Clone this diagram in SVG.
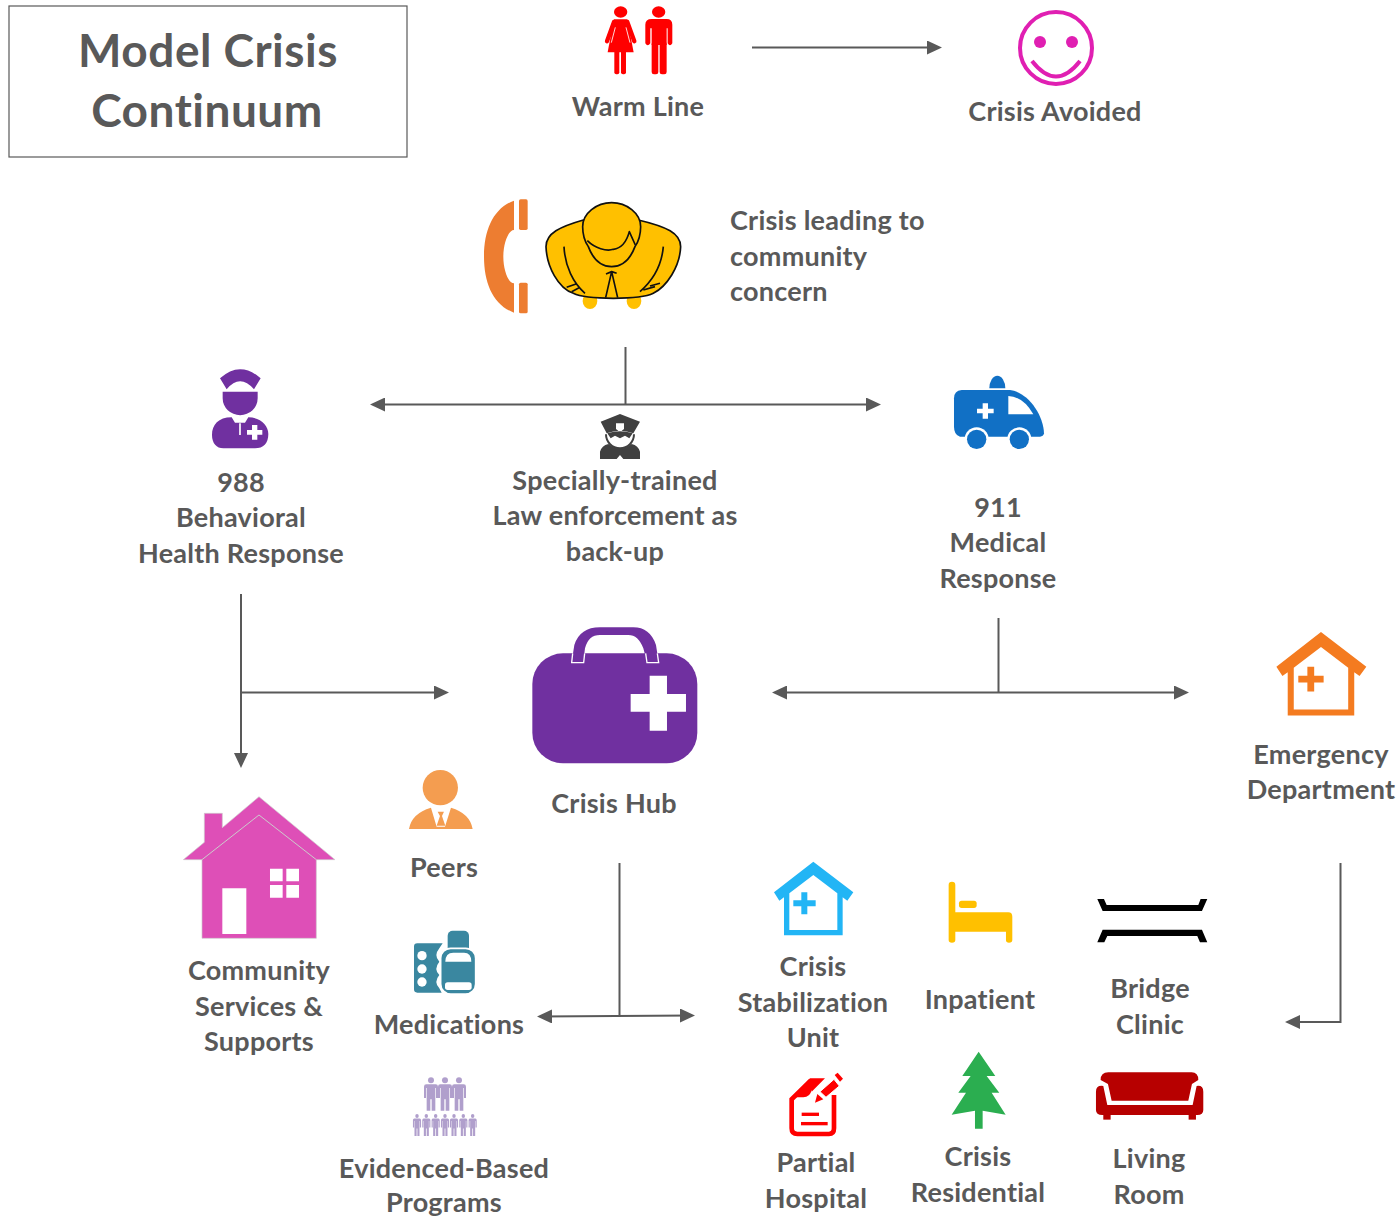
<svg xmlns="http://www.w3.org/2000/svg" xmlns:xlink="http://www.w3.org/1999/xlink" width="1399" height="1216" viewBox="0 0 1399 1216">
<style>
text{font-family:"Lato","Open Sans","Liberation Sans",sans-serif;font-weight:700;font-size:27px;fill:#595959;text-anchor:middle;letter-spacing:.25px}
.l{text-anchor:start}
.t{font-size:46px;letter-spacing:.5px}
.c{fill:none;stroke:#595959;stroke-width:2}
.a{marker-end:url(#h)}
.b{marker-start:url(#h);marker-end:url(#h)}
.w{fill:#fff}
</style>
<defs>
<marker id="h" markerUnits="userSpaceOnUse" viewBox="0 0 15 14" markerWidth="15" markerHeight="14" refX="12" refY="7" orient="auto-start-reverse"><path d="M0 0L15 7L0 14Z" fill="#595959"/></marker>
<g id="mh">
<path fill-rule="evenodd" d="M160 5L280 97L262 122L248 112V226H72V112L58 122L42 97ZM160 45L88 100V210H232V100Z"/>
<path d="M124 97H142V121H167V139H142V163H124V139H100V121H124Z"/>
</g>
<g id="p"><circle cx="0" cy="9" r="9"/><path d="M-14 21H14Q21 21 21 28V62H15V32H13V100H2V66H-2V100H-13V32H-15V62H-21V28Q-21 21-14 21Z"/></g>
</defs>
<rect width="1399" height="1216" fill="#fff"/>

<g id="connectors">
<path class="c a" d="M752 47.500H939"/>
<path class="c" d="M625.500 347V405"/>
<path class="c b" d="M373 404.500H878"/>
<path class="c a" d="M241 594V765"/>
<path class="c a" d="M241 692.500H446"/>
<path class="c" d="M998.500 618V692"/>
<path class="c b" d="M775 692.500H1186"/>
<path class="c" d="M619.500 863V1016"/>
<path class="c b" d="M540 1016.500L692 1015.500"/>
<path class="c a" d="M1340.500 863V1022H1288"/>
</g>

<g id="title">
<rect x="9" y="6" width="398" height="151" fill="#fff" stroke="#595959" stroke-width="1.200"/>
<text class="t" x="208" y="67">Model Crisis</text>
<text class="t" x="207" y="127">Continuum</text>
</g>

<g id="warm-line">
<g transform="translate(470 0) scale(.3333)" fill="#f00">
<ellipse cx="452" cy="36" rx="20" ry="17"/>
<path d="M432 58H472L491 157H413Z"/>
<path d="M432 66L411 124M472 66L493 124" stroke="#f00" stroke-width="13" stroke-linecap="round"/>
<path d="M436 82L424 128M468 82L480 128" stroke="#fff" stroke-width="2.500"/>
<rect x="433" y="150" width="15" height="73" rx="6"/><rect x="453" y="150" width="15" height="73" rx="6"/>
<ellipse cx="566" cy="36" rx="20" ry="17"/>
<path d="M545 57H590Q607 57 607 74V130Q600 142 593 130V85H590V135H545V85H541V130Q533 142 526 130V74Q526 57 545 57Z"/>
<rect x="545" y="125" width="20" height="98" rx="7"/><rect x="569" y="125" width="21" height="98" rx="7"/>
</g>
<text x="638" y="116">Warm Line</text>
</g>

<g id="crisis-avoided">
<circle cx="1056" cy="48" r="36" fill="none" stroke="#e01fb2" stroke-width="4"/>
<circle cx="1040" cy="42" r="6" fill="#e01fb2"/><circle cx="1072" cy="42" r="6" fill="#e01fb2"/>
<path d="M1032 61Q1056 92 1080 61" fill="none" stroke="#e01fb2" stroke-width="4"/>
<text x="1055" y="121">Crisis Avoided</text>
</g>

<g id="crisis-concern">
<g transform="translate(470 0) scale(.3333)">
<path fill="#ed7d31" d="M132 602C70 625 42 690 42 770C42 850 70 915 132 938V850C115 850 100 810 100 770C100 730 115 690 132 690Z"/>
<rect x="147" y="598" width="26" height="92" rx="5" fill="#ed7d31"/><rect x="147" y="848" width="26" height="92" rx="5" fill="#ed7d31"/>
<ellipse cx="360" cy="903" rx="22" ry="24" fill="#ffc000"/><ellipse cx="492" cy="903" rx="22" ry="24" fill="#ffc000"/>
<g stroke="#111" stroke-width="5" fill="#ffc000" stroke-linejoin="round">
<path d="M340 660C270 680 228 700 228 740C230 800 265 865 310 880C350 900 510 900 550 880C590 860 630 800 632 740C632 700 590 680 505 660Z"/>
<path d="M338 680C338 640 380 608 425 608C470 608 512 640 512 680C512 705 505 725 495 740C480 780 455 800 425 800C395 800 370 780 355 740C345 725 338 705 338 680Z"/>
<path fill="none" d="M352 722C375 745 410 755 430 748C455 745 470 725 478 695L496 735M425 815L407 893M425 815L443 893M408 822L425 815L440 820M282 740C285 800 310 850 345 880M580 740C575 800 550 840 510 875M290 862L318 852M305 875L330 862M540 858L570 850M520 870L555 860"/>
</g></g>
<text class="l" x="730" y="230">Crisis leading to</text>
<text class="l" x="730" y="266">community</text>
<text class="l" x="730" y="301">concern</text>
</g>

<g id="behavioral-988">
<g transform="translate(180 360) scale(.3333)" fill="#7030a0">
<path d="M120 55Q180 0 242 55L222 88Q180 40 140 88Z"/>
<path d="M128 95H233V115A52 50 0 0 1 128 115Z"/>
<path d="M155 172C115 172 96 195 96 225C96 250 110 265 130 265H225C250 265 265 250 265 222C265 195 240 172 205 172L195 188H165Z"/>
<path d="M180 190V225" stroke="#fff" stroke-width="5"/>
<path class="w" d="M216 195H232V210H247V224H232V239H216V224H201V210H216Z"/>
</g>
<text x="241" y="492">988</text><text x="241" y="527">Behavioral</text><text x="241" y="563">Health Response</text>
</g>

<g id="law-enforcement">
<g transform="translate(590 405) scale(.3333)" fill="#404040">
<path d="M90 27L150 50L130 85Q90 70 50 85L32 50Z"/>
<path class="w" d="M78 55H102V72L90 82L78 72Z"/>
<path d="M48 88A42 42 0 0 0 132 88" fill="none" stroke="#404040" stroke-width="6"/>
<path d="M52 85Q90 72 128 85L118 100L105 92L90 100L75 92L62 100Z"/>
<path d="M30 162V140Q35 122 55 117Q90 145 125 117Q145 122 150 140V162H100L90 150L80 162Z"/>
</g>
<text x="615" y="490">Specially-trained</text><text x="615" y="525">Law enforcement as</text><text x="615" y="561">back-up</text>
</g>

<g id="medical-911">
<g transform="translate(940 370) scale(.3333)" fill="#1170c5">
<path d="M148 55A24 38 0 0 1 196 55Z"/>
<path d="M65 60H210C260 65 310 130 312 190Q310 200 300 200H60Q42 195 42 170V85Q42 62 65 60Z"/>
<path class="w" d="M205 78Q250 80 280 133H205Z"/>
<path class="w" d="M128 100H144V116H161V130H144V146H128V130H111V116H128Z"/>
<circle cx="110" cy="208" r="36" class="w"/><circle cx="238" cy="208" r="36" class="w"/>
<circle cx="110" cy="208" r="29"/><circle cx="238" cy="208" r="29"/>
</g>
<text x="998" y="517">911</text><text x="998" y="552">Medical</text><text x="998" y="588">Response</text>
</g>

<g id="crisis-hub">
<g transform="translate(525 620) scale(.3333)">
<rect x="22" y="100" width="495" height="330" rx="92" fill="#7030a0"/>
<path fill="#7030a0" d="M140 126L148 75Q165 22 225 22H325Q375 22 393 75L401 126H366L355 85Q340 45 310 45H225Q190 45 180 85L175 126Z"/>
<path d="M143 100L140 128H176L179 100M362 100L366 128H401L397 100" fill="none" stroke="#fff" stroke-width="4"/>
<path class="w" d="M374 167H426V222H483V275H426V332H374V275H317V222H374Z"/>
</g>
<text x="614" y="813">Crisis Hub</text>
</g>

<g id="emergency-department">
<use xlink:href="#mh" href="#mh" fill="#f47b20" transform="translate(1260.500 630) scale(.378)"/>
<text x="1321" y="764">Emergency</text><text x="1321" y="799">Department</text>
</g>

<g id="community-services">
<g transform="translate(170 760) scale(.3333)">
<path fill="#de4fb7" stroke="#ccc" stroke-width="2" d="M267 110L495 299H439V535H96V299H40L103 247V160H157V203Z"/>
<path d="M96 299L267 165L439 299" fill="none" stroke="#ccc" stroke-width="3"/>
<path class="w" d="M157 385H229V522H157ZM300 326H338V364H300ZM349 326H387V364H349ZM300 375H338V413H300ZM349 375H387V413H349Z"/>
</g>
<text x="259" y="980">Community</text><text x="259" y="1016">Services &amp;</text><text x="259" y="1051">Supports</text>
</g>

<g id="peers">
<g transform="translate(170 760) scale(.3333)" fill="#f49d50">
<circle cx="811" cy="83" r="53"/>
<path d="M717 207Q725 160 783 143L800 200H825L843 143Q900 160 908 207Z"/>
<path d="M803 155H822L816 168L826 197H800L810 168Z"/>
</g>
<text x="444" y="877">Peers</text>
</g>

<g id="medications">
<g transform="translate(400 920) scale(.3333)" fill="#3a87a0">
<path d="M52 70H128L118 85Q100 107 118 125Q100 147 118 165Q100 186 118 205L125 218H52Q42 218 42 208V80Q42 70 52 70Z"/>
<circle class="w" cx="66" cy="107" r="14"/><circle class="w" cx="66" cy="147" r="14"/><circle class="w" cx="66" cy="186" r="14"/>
<rect x="143" y="32" width="64" height="65" rx="15"/>
<rect x="122" y="85" width="105" height="137" rx="30" stroke="#fff" stroke-width="5"/>
<path class="w" d="M136 125Q136 98 160 98H192Q214 98 214 125Z"/>
<rect class="w" x="135" y="187" width="80" height="23" rx="8"/>
</g>
<text x="449" y="1034">Medications</text>
</g>

<g id="evidence-based-programs">
<g transform="translate(400 920) scale(.3333)" fill="#b09fcc">
<use href="#p" xlink:href="#p" transform="translate(93 472)"/><use href="#p" xlink:href="#p" transform="translate(135 472)"/><use href="#p" xlink:href="#p" transform="translate(177 472)"/>
<use href="#p" xlink:href="#p" transform="translate(51 582) scale(.58 .66)"/><use href="#p" xlink:href="#p" transform="translate(79 582) scale(.58 .66)"/><use href="#p" xlink:href="#p" transform="translate(107 582) scale(.58 .66)"/><use href="#p" xlink:href="#p" transform="translate(135 582) scale(.58 .66)"/><use href="#p" xlink:href="#p" transform="translate(162 582) scale(.58 .66)"/><use href="#p" xlink:href="#p" transform="translate(190 582) scale(.58 .66)"/><use href="#p" xlink:href="#p" transform="translate(218 582) scale(.58 .66)"/>
</g>
<text x="444" y="1178">Evidenced-Based</text><text x="444" y="1212">Programs</text>
</g>

<g id="crisis-stabilization">
<use href="#mh" xlink:href="#mh" fill="#22b5f5" transform="translate(760 860) scale(.3333)"/>
<text x="813" y="976">Crisis</text><text x="813" y="1012">Stabilization</text><text x="813" y="1047">Unit</text>
</g>

<g id="inpatient">
<g transform="translate(760 860) scale(.3333)" fill="#ffc000">
<path d="M566 75Q566 65 576 65Q586 65 586 75V157H745Q757 157 757 170V240Q757 248 747 248Q738 248 738 240V215H586V240Q586 248 576 248Q566 248 566 240Z"/>
<rect x="597" y="122" width="53" height="22" rx="8"/>
</g>
<text x="980" y="1009">Inpatient</text>
</g>

<g id="bridge-clinic">
<g transform="translate(760 860) scale(.3333)" fill="#000">
<path d="M1012 117H1032L1040 135H1315L1322 117H1342L1326 153H1028Z"/>
<path d="M1028 209H1326L1342 247H1320L1312 228H1042L1033 247H1012Z"/>
</g>
<text x="1150" y="998">Bridge</text><text x="1150" y="1034">Clinic</text>
</g>

<g id="partial-hospital">
<g transform="translate(760 860) scale(.3333)" fill="#f00">
<path d="M152 662L95 718V805Q95 822 112 822H207Q222 822 222 805V705" fill="none" stroke="#f00" stroke-width="14"/>
<path d="M150 655H195L155 695V690Q150 712 130 712H95Z"/>
<path d="M165 728L172 702L190 718Z"/>
<path d="M180 695L222 658L238 678L198 712Z" stroke="#fff" stroke-width="3"/>
<path d="M224 645L233 638L249 656L240 665Z"/>
<rect x="125" y="758" width="52" height="10"/><rect x="123" y="786" width="80" height="10"/>
</g>
<text x="816" y="1172">Partial</text><text x="816" y="1208">Hospital</text>
</g>

<g id="crisis-residential">
<path transform="translate(760 860) scale(.3333)" fill="#2bae50" d="M656 575L706 648H680L718 698H695L737 764L668 752V806H645V752L575 764L618 698H595L632 648H607Z"/>
<text x="978" y="1166">Crisis</text><text x="978" y="1202">Residential</text>
</g>

<g id="living-room">
<g transform="translate(760 860) scale(.3333)" fill="#b70000">
<path d="M1022 660Q1022 637 1045 637H1295Q1315 637 1315 660L1296 672L1285 722H1055L1044 672Z"/>
<path d="M1030 678L1042 735H1298L1310 678Q1330 675 1330 695V750Q1330 765 1312 765H1027Q1008 765 1008 750V695Q1008 675 1030 678Z"/>
<rect x="1030" y="760" width="22" height="19"/><rect x="1286" y="760" width="22" height="19"/>
</g>
<text x="1149" y="1168">Living</text><text x="1149" y="1204">Room</text>
</g>
</svg>
